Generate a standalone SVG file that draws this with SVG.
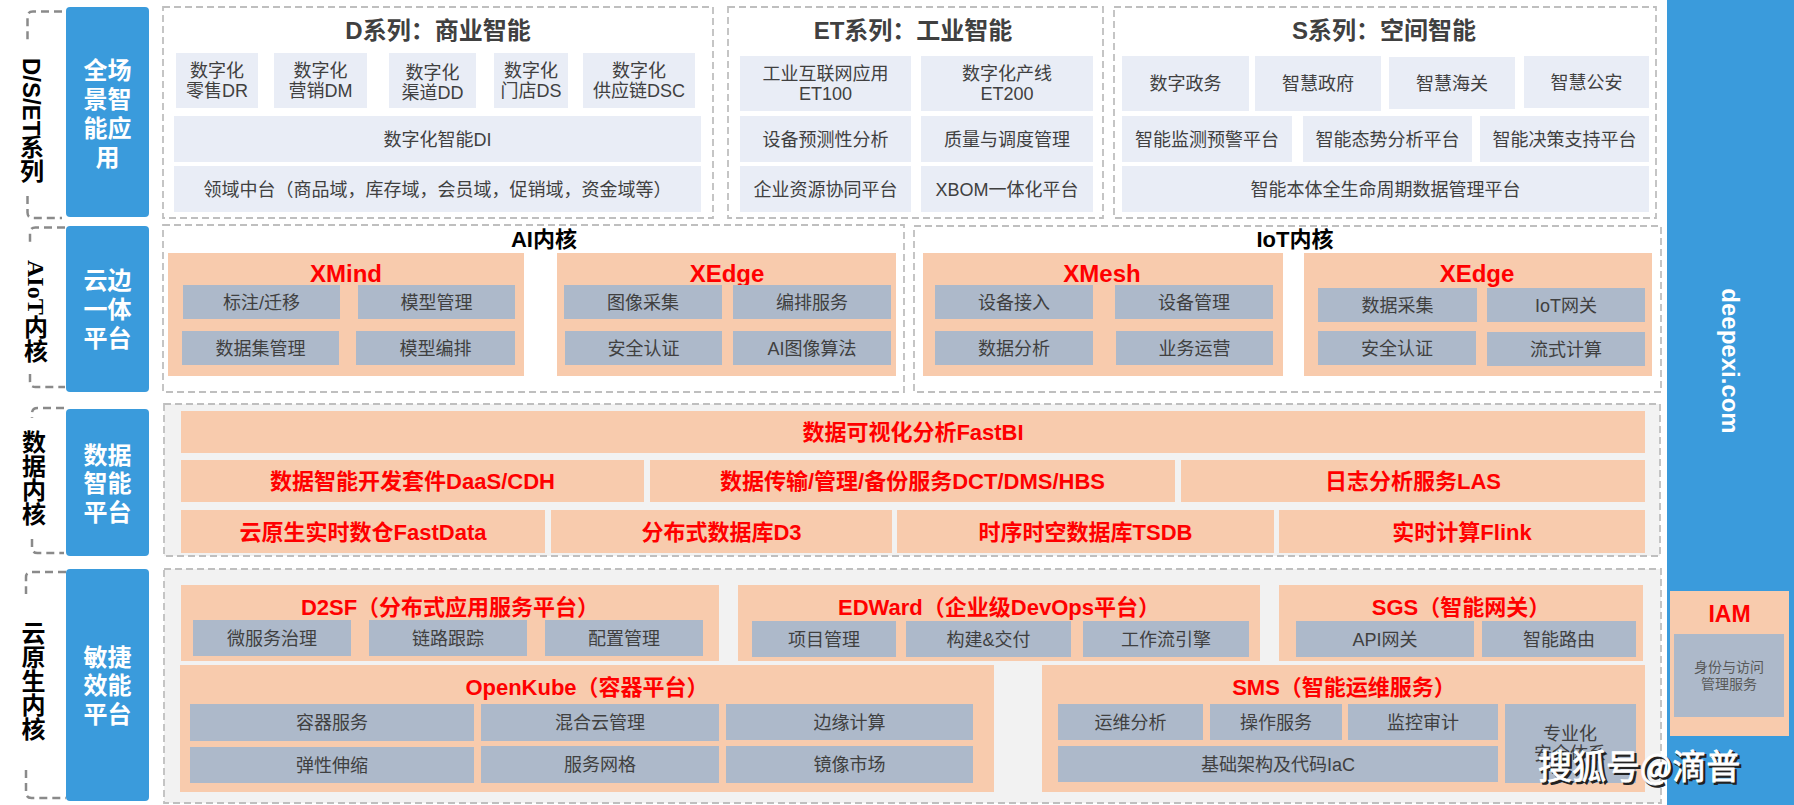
<svg xmlns="http://www.w3.org/2000/svg" width="1794" height="805" viewBox="0 0 1794 805">
<style>
text{font-family:"Liberation Sans","Noto Sans CJK SC",sans-serif;text-anchor:middle}
.bg{fill:#fff}
.box{fill:#fff;stroke:#BFBFBF;stroke-width:1.8;stroke-dasharray:7 4}
.boxg{fill:#F2F2F2;stroke:#BFBFBF;stroke-width:1.8;stroke-dasharray:7 4}
.blue{fill:#3A9BDC}
.lt{fill:#E9EDF6}
.pe{fill:#F8CBAD}
.gr{fill:#ADB9CA}
.br{fill:none;stroke:#8A8A8A;stroke-width:2.5;stroke-dasharray:8 5}
.t{font-size:18px;fill:#404040}
.ttl{font-size:24px;font-weight:bold;fill:#404040}
.hd{font-size:22px;font-weight:bold;fill:#000}
.red{font-size:22px;font-weight:bold;fill:#FF0000}
.red24{font-size:24px;font-weight:bold;fill:#FF0000}
.wt{font-size:24px;font-weight:bold;fill:#fff}
.side{font-size:24px;font-weight:bold;fill:#000}
.sm{font-size:14px;fill:#595959}
</style>
<rect x="0" y="0" width="1794" height="805" class="bg"/>

<!-- right blue column -->
<g id="brand">
<rect x="1667" y="0" width="127" height="805" class="blue"/>
<text class="wt" transform="translate(1722,361) rotate(90)">deepexi.com</text>
</g>

<!-- left side labels -->
<g id="side-dset">
<path class="br" d="M62,11.5 H33 Q27.5,11.5 27.5,17 V40"/>
<path class="br" d="M27.5,196 V212.5 Q27.5,218 33,218 H62"/>
<text class="side" style="text-anchor:start" transform="translate(23.4,58) rotate(90)">D/S/ET</text>
<text class="side" x="32" y="156">系</text>
<text class="side" x="32" y="180">列</text>
</g>
<g id="side-aiot">
<path class="br" d="M65,227.5 H35.5 Q30,227.5 30,233 V243"/>
<path class="br" d="M30,374 V381.5 Q30,387 35.5,387 H65"/>
<text class="side" style="text-anchor:start;font-family:'Liberation Serif',serif" transform="translate(28,260) rotate(90)">AIoT</text>
<text class="side" x="36" y="336">内</text>
<text class="side" x="36" y="360">核</text>
</g>
<g id="side-data">
<path class="br" d="M64,408 H37.5 Q32,408 32,413.5 V418"/>
<path class="br" d="M32,539 V547.5 Q32,553 37.5,553 H64"/>
<text class="side" x="34" y="451">数</text>
<text class="side" x="34" y="475">据</text>
<text class="side" x="34" y="499">内</text>
<text class="side" x="34" y="523">核</text>
</g>
<g id="side-cloud">
<path class="br" d="M66,572 H31.5 Q26,572 26,577.5 V594"/>
<path class="br" d="M26,770 V792.5 Q26,798 31.5,798 H66"/>
<text class="side" x="33.5" y="642">云</text>
<text class="side" x="33.5" y="666">原</text>
<text class="side" x="33.5" y="690">生</text>
<text class="side" x="33.5" y="714">内</text>
<text class="side" x="33.5" y="738">核</text>
</g>

<!-- left blue platform labels -->
<g id="plat-app">
<rect x="66" y="7" width="83" height="210" rx="4" class="blue"/>
<text class="wt" x="107.5" y="79">全场</text>
<text class="wt" x="107.5" y="108">景智</text>
<text class="wt" x="107.5" y="137">能应</text>
<text class="wt" x="107.5" y="166">用</text>
</g>
<g id="plat-edge">
<rect x="66" y="226" width="83" height="166" rx="4" class="blue"/>
<text class="wt" x="107.5" y="289">云边</text>
<text class="wt" x="107.5" y="318">一体</text>
<text class="wt" x="107.5" y="347">平台</text>
</g>
<g id="plat-data">
<rect x="66" y="409" width="83" height="147" rx="4" class="blue"/>
<text class="wt" x="107.5" y="464">数据</text>
<text class="wt" x="107.5" y="492">智能</text>
<text class="wt" x="107.5" y="521">平台</text>
</g>
<g id="plat-agile">
<rect x="66" y="569" width="83" height="232" rx="4" class="blue"/>
<text class="wt" x="107.5" y="666">敏捷</text>
<text class="wt" x="107.5" y="694">效能</text>
<text class="wt" x="107.5" y="723">平台</text>
</g>

<!-- Row 1: D series -->
<g id="d-series">
<rect x="163" y="7" width="550" height="211" class="box"/>
<text class="ttl" x="438" y="39">D系列：商业智能</text>
<rect x="176" y="53" width="82" height="55" class="lt"/>
<text class="t" x="217" y="77">数字化</text><text class="t" x="217" y="97">零售DR</text>
<rect x="274" y="53" width="93" height="55" class="lt"/>
<text class="t" x="320.5" y="77">数字化</text><text class="t" x="320.5" y="97">营销DM</text>
<rect x="389" y="53" width="87" height="55" class="lt"/>
<text class="t" x="432.5" y="79">数字化</text><text class="t" x="432.5" y="99">渠道DD</text>
<rect x="494" y="53" width="74" height="55" class="lt"/>
<text class="t" x="531" y="77">数字化</text><text class="t" x="531" y="97">门店DS</text>
<rect x="583" y="53" width="112" height="55" class="lt"/>
<text class="t" x="639" y="77">数字化</text><text class="t" x="639" y="97">供应链DSC</text>
<rect x="174" y="116" width="527" height="46" class="lt"/>
<text class="t" x="437.5" y="145.5">数字化智能DI</text>
<rect x="174" y="166" width="527" height="46" class="lt"/>
<text class="t" x="437.5" y="195.5">领域中台（商品域，库存域，会员域，促销域，资金域等）</text>
</g>

<!-- Row 1: ET series -->
<g id="et-series">
<rect x="728" y="7" width="375" height="211" class="box"/>
<text class="ttl" x="913" y="39">ET系列：工业智能</text>
<rect x="740" y="56" width="171" height="55" class="lt"/>
<text class="t" x="825.5" y="80">工业互联网应用</text><text class="t" x="825.5" y="100">ET100</text>
<rect x="921" y="56" width="172" height="55" class="lt"/>
<text class="t" x="1007" y="80">数字化产线</text><text class="t" x="1007" y="100">ET200</text>
<rect x="740" y="116" width="171" height="46" class="lt"/>
<text class="t" x="825.5" y="145.5">设备预测性分析</text>
<rect x="921" y="116" width="172" height="46" class="lt"/>
<text class="t" x="1007" y="145.5">质量与调度管理</text>
<rect x="740" y="166" width="171" height="46" class="lt"/>
<text class="t" x="825.5" y="195.5">企业资源协同平台</text>
<rect x="921" y="166" width="172" height="46" class="lt"/>
<text class="t" x="1007" y="195.5">XBOM一体化平台</text>
</g>

<!-- Row 1: S series -->
<g id="s-series">
<rect x="1114" y="7" width="542" height="211" class="box"/>
<text class="ttl" x="1384" y="39">S系列：空间智能</text>
<rect x="1122" y="56" width="127" height="55" class="lt"/>
<text class="t" x="1185.5" y="90">数字政务</text>
<rect x="1255" y="56" width="126" height="55" class="lt"/>
<text class="t" x="1318" y="90">智慧政府</text>
<rect x="1389" y="57" width="126" height="52" class="lt"/>
<text class="t" x="1452" y="90">智慧海关</text>
<rect x="1524" y="56" width="125" height="52" class="lt"/>
<text class="t" x="1586.5" y="89">智慧公安</text>
<rect x="1122" y="116" width="170" height="46" class="lt"/>
<text class="t" x="1207" y="145.5">智能监测预警平台</text>
<rect x="1303" y="116" width="169" height="46" class="lt"/>
<text class="t" x="1387.5" y="145.5">智能态势分析平台</text>
<rect x="1480" y="116" width="169" height="46" class="lt"/>
<text class="t" x="1564.5" y="145.5">智能决策支持平台</text>
<rect x="1122" y="166" width="527" height="46" class="lt"/>
<text class="t" x="1385.5" y="195.5">智能本体全生命周期数据管理平台</text>
</g>

<!-- Row 2: AI core -->
<g id="ai-core">
<rect x="163" y="225" width="741" height="167" class="box"/>
<text class="hd" x="544" y="247">AI内核</text>
</g>
<g id="xmind">
<rect x="168" y="253" width="356" height="123" class="pe"/>
<text class="red24" x="346" y="282">XMind</text>
<rect x="183" y="285" width="157" height="34" class="gr"/><text class="t" x="261.5" y="308.5">标注/迁移</text>
<rect x="358" y="285" width="157" height="34" class="gr"/><text class="t" x="436.5" y="308.5">模型管理</text>
<rect x="182" y="331" width="157" height="34" class="gr"/><text class="t" x="260.5" y="354.5">数据集管理</text>
<rect x="356" y="331" width="159" height="34" class="gr"/><text class="t" x="435.5" y="354.5">模型编排</text>
</g>
<g id="xedge-ai">
<rect x="557" y="253" width="339" height="123" class="pe"/>
<text class="red24" x="727" y="282">XEdge</text>
<rect x="564" y="285" width="158" height="34" class="gr"/><text class="t" x="643" y="308.5">图像采集</text>
<rect x="733" y="285" width="158" height="34" class="gr"/><text class="t" x="812" y="308.5">编排服务</text>
<rect x="565" y="331" width="157" height="34" class="gr"/><text class="t" x="643.5" y="354.5">安全认证</text>
<rect x="733" y="331" width="158" height="34" class="gr"/><text class="t" x="812" y="354.5">AI图像算法</text>
</g>

<!-- Row 2: IoT core -->
<g id="iot-core">
<rect x="914" y="226" width="747" height="166" class="box"/>
<text class="hd" x="1295" y="247">IoT内核</text>
</g>
<g id="xmesh">
<rect x="923" y="253" width="360" height="123" class="pe"/>
<text class="red24" x="1102" y="282">XMesh</text>
<rect x="935" y="285" width="158" height="34" class="gr"/><text class="t" x="1014" y="308.5">设备接入</text>
<rect x="1115" y="285" width="158" height="34" class="gr"/><text class="t" x="1194" y="308.5">设备管理</text>
<rect x="935" y="331" width="158" height="34" class="gr"/><text class="t" x="1014" y="354.5">数据分析</text>
<rect x="1116" y="331" width="157" height="34" class="gr"/><text class="t" x="1194.5" y="354.5">业务运营</text>
</g>
<g id="xedge-iot">
<rect x="1304" y="253" width="348" height="123" class="pe"/>
<text class="red24" x="1477" y="282">XEdge</text>
<rect x="1318" y="288" width="159" height="34" class="gr"/><text class="t" x="1397.5" y="311.5">数据采集</text>
<rect x="1487" y="288" width="158" height="34" class="gr"/><text class="t" x="1566" y="311.5">IoT网关</text>
<rect x="1318" y="331" width="158" height="34" class="gr"/><text class="t" x="1397" y="354.5">安全认证</text>
<rect x="1487" y="332" width="158" height="34" class="gr"/><text class="t" x="1566" y="355.5">流式计算</text>
</g>

<!-- Row 3: data core -->
<g id="data-core">
<rect x="164" y="404" width="1496" height="152" class="boxg"/>
</g>
<g id="fastbi"><rect x="181" y="411" width="1464" height="42" class="pe"/><text class="red" x="913" y="440">数据可视化分析FastBI</text></g>
<g id="daas"><rect x="181" y="460" width="463" height="42" class="pe"/><text class="red" x="412.5" y="489">数据智能开发套件DaaS/CDH</text></g>
<g id="dct"><rect x="650" y="460" width="525" height="42" class="pe"/><text class="red" x="912.5" y="489">数据传输/管理/备份服务DCT/DMS/HBS</text></g>
<g id="las"><rect x="1181" y="460" width="464" height="42" class="pe"/><text class="red" x="1413" y="489">日志分析服务LAS</text></g>
<g id="fastdata"><rect x="181" y="510" width="364" height="43" class="pe"/><text class="red" x="363" y="539.5">云原生实时数仓FastData</text></g>
<g id="d3"><rect x="551" y="510" width="341" height="43" class="pe"/><text class="red" x="721.5" y="539.5">分布式数据库D3</text></g>
<g id="tsdb"><rect x="897" y="510" width="377" height="43" class="pe"/><text class="red" x="1085.5" y="539.5">时序时空数据库TSDB</text></g>
<g id="flink"><rect x="1279" y="510" width="366" height="43" class="pe"/><text class="red" x="1462" y="539.5">实时计算Flink</text></g>

<!-- Row 4: cloud native core -->
<g id="cloud-core">
<rect x="164" y="569" width="1497" height="234" class="boxg"/>
</g>
<g id="d2sf">
<rect x="181" y="585" width="538" height="76" class="pe"/>
<text class="red" x="450" y="615">D2SF（分布式应用服务平台）</text>
<rect x="193" y="620" width="158" height="36" class="gr"/><text class="t" x="272" y="644.5">微服务治理</text>
<rect x="369" y="620" width="158" height="36" class="gr"/><text class="t" x="448" y="644.5">链路跟踪</text>
<rect x="545" y="620" width="158" height="36" class="gr"/><text class="t" x="624" y="644.5">配置管理</text>
</g>
<g id="edward">
<rect x="738" y="585" width="522" height="76" class="pe"/>
<text class="red" x="999" y="615">EDWard（企业级DevOps平台）</text>
<rect x="752" y="621" width="144" height="36" class="gr"/><text class="t" x="824" y="645.5">项目管理</text>
<rect x="906" y="621" width="165" height="36" class="gr"/><text class="t" x="988.5" y="645.5">构建&amp;交付</text>
<rect x="1083" y="621" width="166" height="36" class="gr"/><text class="t" x="1166" y="645.5">工作流引擎</text>
</g>
<g id="sgs">
<rect x="1279" y="585" width="364" height="76" class="pe"/>
<text class="red" x="1461" y="615">SGS（智能网关）</text>
<rect x="1296" y="621" width="178" height="36" class="gr"/><text class="t" x="1385" y="645.5">API网关</text>
<rect x="1482" y="621" width="154" height="36" class="gr"/><text class="t" x="1559" y="645.5">智能路由</text>
</g>
<g id="openkube">
<rect x="180" y="665" width="814" height="127" class="pe"/>
<text class="red" x="587" y="695">OpenKube（容器平台）</text>
<rect x="190" y="704" width="284" height="37" class="gr"/><text class="t" x="332" y="729">容器服务</text>
<rect x="481" y="704" width="238" height="37" class="gr"/><text class="t" x="600" y="729">混合云管理</text>
<rect x="726" y="704" width="247" height="36" class="gr"/><text class="t" x="849.5" y="728.5">边缘计算</text>
<rect x="190" y="747" width="284" height="36" class="gr"/><text class="t" x="332" y="771.5">弹性伸缩</text>
<rect x="481" y="746" width="238" height="37" class="gr"/><text class="t" x="600" y="771">服务网格</text>
<rect x="726" y="746" width="247" height="37" class="gr"/><text class="t" x="849.5" y="771">镜像市场</text>
</g>
<g id="sms">
<rect x="1042" y="665" width="603" height="127" class="pe"/>
<text class="red" x="1344" y="695">SMS（智能运维服务）</text>
<rect x="1058" y="704" width="145" height="36" class="gr"/><text class="t" x="1130.5" y="728.5">运维分析</text>
<rect x="1210" y="704" width="132" height="36" class="gr"/><text class="t" x="1276" y="728.5">操作服务</text>
<rect x="1348" y="704" width="150" height="36" class="gr"/><text class="t" x="1423" y="728.5">监控审计</text>
<rect x="1505" y="704" width="131" height="79" class="gr"/><text class="t" x="1570" y="740">专业化</text><text class="t" x="1570" y="760">安全体系</text>
<rect x="1058" y="746" width="440" height="36" class="gr"/><text class="t" x="1278" y="770.5">基础架构及代码IaC</text>
</g>

<!-- IAM -->
<g id="iam">
<rect x="1670" y="591" width="119" height="145" class="pe"/>
<text class="red24" x="1729.5" y="622" style="font-size:23px">IAM</text>
<rect x="1674" y="634" width="110" height="83" class="gr"/>
<text class="sm" x="1729" y="672">身份与访问</text>
<text class="sm" x="1729" y="689">管理服务</text>
</g>

<!-- watermark -->
<g id="watermark">
<text x="1540" y="781" style="text-anchor:start;font-size:34px;font-family:'Noto Sans CJK SC',sans-serif;fill:#222;stroke:#222;stroke-width:1.5">搜狐号@滴普</text>
<text x="1538" y="779" style="text-anchor:start;font-size:34px;font-family:'Noto Sans CJK SC',sans-serif;fill:#fff;stroke:#fff;stroke-width:0.8">搜狐号@滴普</text>
</g>
</svg>
